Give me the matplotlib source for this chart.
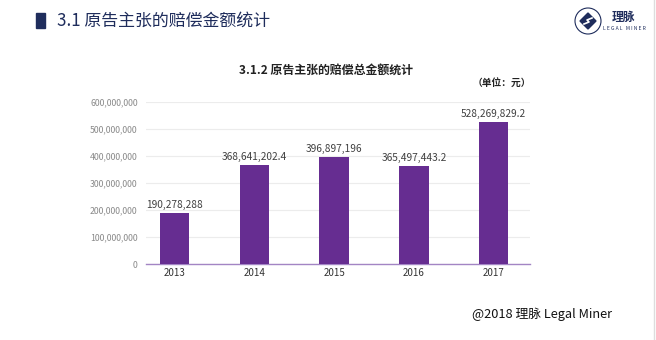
import numpy as np
import matplotlib.pyplot as plt
from matplotlib.patches import Ellipse, Rectangle, Polygon

plt.rcParams['font.family'] = ['Noto Sans CJK SC', 'DejaVu Sans']

years = ['2013', '2014', '2015', '2016', '2017']
amounts = [190278288, 368641202.4, 396897196, 365497443.2, 528269829.2]
amount_labels = ['190,278,288', '368,641,202.4', '396,897,196', '365,497,443.2', '528,269,829.2']
yticks = [0, 100000000, 200000000, 300000000, 400000000, 500000000, 600000000]

navy = '#1f2d5c'
purple = '#662d91'

fig = plt.figure(figsize=(6.56, 3.4), dpi=100)
ax = fig.add_axes([146/656, 1-264.3/340, 384/656, 162/340])

x = np.arange(len(years))
ax.bar(x, amounts, width=0.37, color=purple, zorder=3)
for xi, v, lab in zip(x, amounts, amount_labels):
    ax.text(xi, v + 11e6, lab, ha='center', va='bottom', fontsize=7.3, color='#404040')

ax.set_xlim(-0.36, 4.455)
ax.set_ylim(0, 600000000)
ax.set_yticks(yticks)
ax.set_yticklabels(['0'] + ['{:,}'.format(t) for t in yticks[1:]], fontsize=6.3, color='#8a8a8a')
ax.set_xticks(x)
ax.set_xticklabels(years, fontsize=7, color='#333333')
ax.tick_params(length=0, axis='both')
ax.tick_params(axis='y', pad=6)
ax.tick_params(axis='x', pad=3)
ax.grid(axis='y', color='#ececec', linewidth=0.8, zorder=0)
for s in ['top', 'right', 'left']:
    ax.spines[s].set_visible(False)
ax.spines['bottom'].set_color('#a385c4')
ax.spines['bottom'].set_linewidth(1.0)

# page header
fig.patches.append(Rectangle((36/656, 1-28/340), 9/656, 15/340, transform=fig.transFigure,
                             color=navy))
fig.text(57/656, 1-21/340, '3.1 原告主张的赔偿金额统计', fontsize=12.2, color=navy,
         va='center', ha='left')

# logo
cx, cy = 588, 21
fig.patches.append(Ellipse((cx/656, 1-cy/340), 26/656, 26/340, transform=fig.transFigure,
                           fill=False, edgecolor=navy, linewidth=0.8))
dia = [(cx - 8, cy), (cx, cy - 8), (cx + 8, cy), (cx, cy + 8)]
fig.patches.append(Polygon([(px/656, 1-py/340) for px, py in dia], closed=True,
                           transform=fig.transFigure, color=navy))
fig.lines.append(plt.Line2D([(cx-4)/656, (cx+1)/656, (cx-1)/656, (cx+4)/656],
                            [1-(cy+3)/340, 1-(cy+1)/340, 1-(cy-1)/340, 1-(cy-3)/340],
                            transform=fig.transFigure, color='white', linewidth=1.2))
fig.text(623/656, 1-17/340, '理脉', fontsize=8.5, color=navy, fontweight='bold',
         ha='center', va='center')
fig.text(624/656, 1-29/340, 'L E G A L   M I N E R', fontsize=3.6, color=navy,
         ha='center', va='center')

# chart title and unit
fig.text(326/656, 1-70/340, '3.1.2 原告主张的赔偿总金额统计', fontsize=8.6, color='#222222',
         ha='center', va='center', fontweight='bold')
fig.text(502/656, 1-83/340, '（单位：元）', fontsize=7, color='#222222',
         ha='center', va='center', fontweight='bold')

# footer
fig.text(542/656, 1-314/340, '@2018 理脉 Legal Miner', fontsize=9.2, color='#111111',
         ha='center', va='center')

fig.lines.append(plt.Line2D([654/656, 654/656], [0, 1], transform=fig.transFigure,
                            color='#dddddd', linewidth=1))

fig.savefig('out.png', dpi=100)
